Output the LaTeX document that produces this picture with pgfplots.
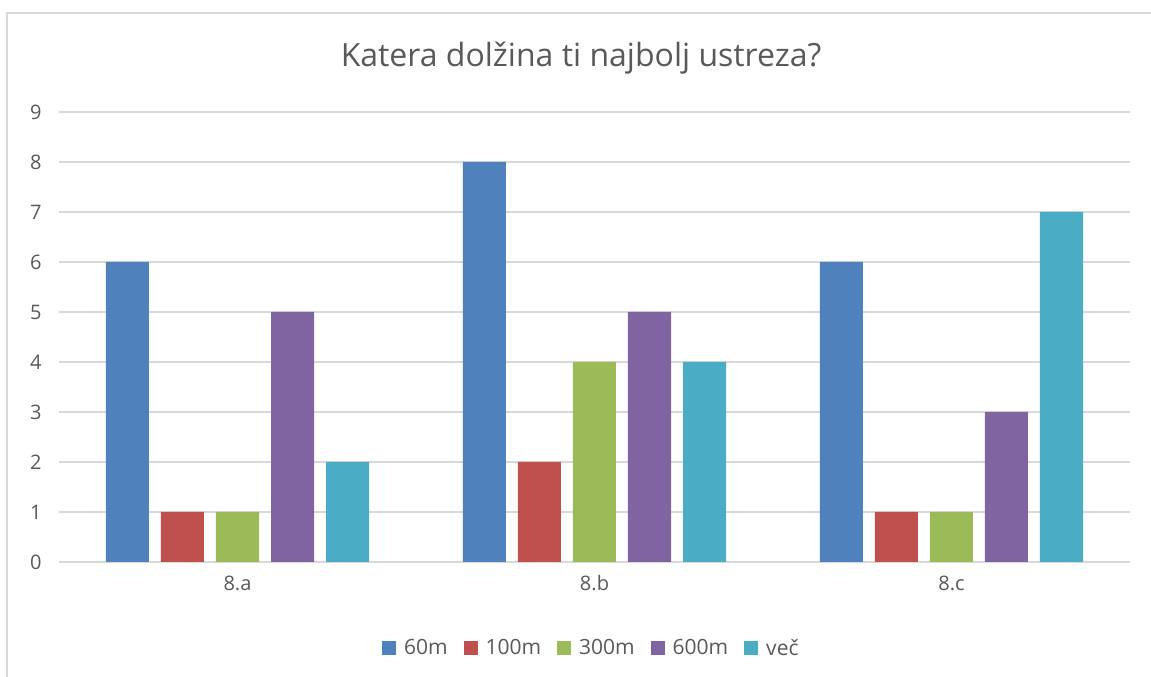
\documentclass[border=0pt]{standalone}
\usepackage{pgfplots}
\pgfplotsset{compat=1.18}
\usepackage{fontspec}
\setmainfont{Open Sans}
\definecolor{cA}{HTML}{4F81BD}
\definecolor{cB}{HTML}{C0504D}
\definecolor{cC}{HTML}{9BBB59}
\definecolor{cD}{HTML}{8064A2}
\definecolor{cE}{HTML}{4BACC6}
\definecolor{txt}{HTML}{595959}
\definecolor{grd}{HTML}{D9D9D9}
\begin{document}
\begin{tikzpicture}[x=1pt,y=1pt]
\path[use as bounding box] (0,0) rectangle (1151,677);
\draw[grd, line width=1.5pt] (7,0) -- (7,664) -- (1151,664);
\node[txt, font=\fontsize{32}{38}\selectfont] at (581,619) {Katera dolžina ti najbolj ustreza?};
\begin{axis}[
  at={(59pt,115pt)}, anchor=south west,
  scale only axis, width=1071pt, height=450pt,
  ybar=12pt, bar width=43pt,
  xmin=-0.5, xmax=2.5, ymin=0, ymax=9,
  xtick={0,1,2}, xticklabels={8.a,8.b,8.c},
  ytick={0,1,...,9},
  /pgf/number format/assume math mode=true,
  ymajorgrids, grid style={grd, line width=1.2pt},
  axis line style={draw=none},
  major tick length=0pt,
  tick label style={txt, font=\fontsize{20}{24}\selectfont},
  yticklabel style={xshift=-14pt},
  xticklabel style={yshift=-10pt},
  legend style={at={(0.497,-0.191)}, anchor=center, draw=none, legend columns=-1,
    font=\fontsize{21}{25}\selectfont, text=txt,
    /tikz/every even column/.append style={column sep=14pt}},
  legend image code/.code={\fill[#1] (0pt,-7pt) rectangle (14pt,7pt); \path (20pt,0pt);},
]
\addplot[fill=cA, draw=none] coordinates {(0,6) (1,8) (2,6)};
\addplot[fill=cB, draw=none] coordinates {(0,1) (1,2) (2,1)};
\addplot[fill=cC, draw=none] coordinates {(0,1) (1,4) (2,1)};
\addplot[fill=cD, draw=none] coordinates {(0,5) (1,5) (2,3)};
\addplot[fill=cE, draw=none] coordinates {(0,2) (1,4) (2,7)};
\legend{60m,100m,300m,600m,več}
\end{axis}
\end{tikzpicture}
\end{document}
